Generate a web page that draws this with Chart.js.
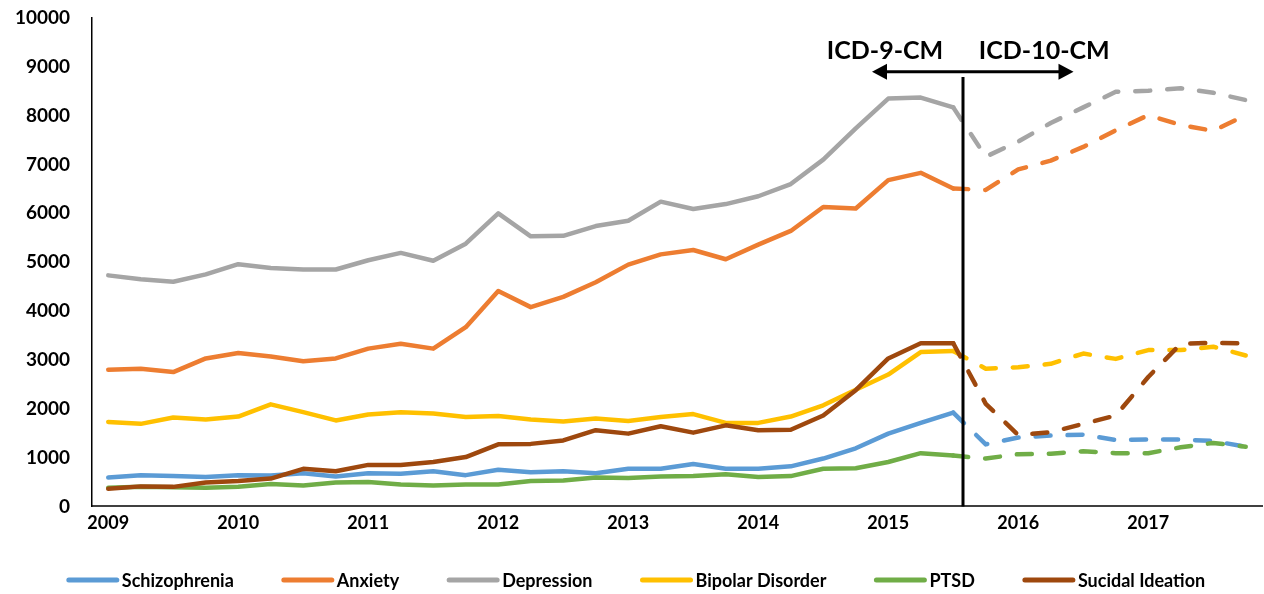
<!DOCTYPE html>
<html>
<head>
<meta charset="utf-8">
<script src="https://cdn.jsdelivr.net/npm/chart.js@4.4.1/dist/chart.umd.min.js"></script>
<style>
  html, body { margin: 0; padding: 0; background: #fff; }
  #wrap { width: 1264px; height: 594px; position: relative; }
</style>
</head>
<body>
<div id="wrap"><canvas id="chart"></canvas></div>
<script>
// quarterly categories, 2009 Q1 .. 2017 Q4
const quarters = [
  '2009 Q1','2009 Q2','2009 Q3','2009 Q4','2010 Q1','2010 Q2','2010 Q3','2010 Q4',
  '2011 Q1','2011 Q2','2011 Q3','2011 Q4','2012 Q1','2012 Q2','2012 Q3','2012 Q4',
  '2013 Q1','2013 Q2','2013 Q3','2013 Q4','2014 Q1','2014 Q2','2014 Q3','2014 Q4',
  '2015 Q1','2015 Q2','2015 Q3','2015 Q4','2016 Q1','2016 Q2','2016 Q3','2016 Q4',
  '2017 Q1','2017 Q2','2017 Q3','2017 Q4'
];
const yearTicks = ['2009','2010','2011','2012','2013','2014','2015','2016','2017'];

const schizophrenia = [590,640,620,600,640,635,680,610,680,670,720,640,750,700,720,680,770,770,870,770,770,820,980,1190,1490,1710,1920,1270,1410,1450,1470,1360,1370,1370,1340,1220];
const anxiety = [2800,2820,2750,3030,3140,3070,2970,3030,3230,3330,3230,3670,4410,4080,4290,4590,4950,5160,5250,5060,5360,5640,6130,6100,6680,6830,6510,6480,6900,7080,7360,7700,8010,7810,7690,8010];
const depression = [4730,4650,4600,4750,4960,4880,4850,4850,5040,5190,5030,5380,6000,5530,5540,5740,5850,6240,6090,6190,6350,6600,7100,7740,8350,8370,8170,7160,7470,7850,8170,8490,8510,8560,8470,8320];
const bipolar = [1730,1690,1820,1780,1840,2090,1930,1760,1880,1930,1900,1830,1850,1780,1740,1800,1750,1830,1890,1710,1710,1840,2070,2390,2700,3160,3180,2820,2850,2920,3130,3020,3200,3200,3270,3090];
const ptsd = [380,400,390,380,400,460,430,490,500,450,430,450,450,520,530,590,580,610,620,660,600,620,770,780,910,1090,1040,980,1070,1080,1130,1090,1090,1210,1300,1220];
const suicidal = [360,410,400,490,520,570,770,720,850,850,910,1010,1270,1280,1350,1560,1490,1640,1510,1660,1560,1570,1860,2380,3030,3340,3340,2100,1460,1520,1690,1860,2650,3330,3350,3340];

const seriesNames = ['Schizophrenia','Anxiety','Depression','Bipolar Disorder','PTSD','Sucidal Ideation'];
const seriesData = [schizophrenia, anxiety, depression, bipolar, ptsd, suicidal];
const seriesColors = ['#5B9BD5','#ED7D31','#A5A5A5','#FFC000','#70AD47','#9E480E'];

// last ICD-9-CM quarter index; switch to ICD-10-CM shortly after
const icd9LastIndex = 26;
const icdSwitchPos = 26.3;

const FONT = 'Lato, "Liberation Sans", sans-serif';
const dash = [15, 17];

const datasets = seriesNames.map((name, i) => ({
  label: name,
  data: seriesData[i],
  borderColor: seriesColors[i],
  backgroundColor: seriesColors[i],
  borderWidth: 4.5,
  pointRadius: 0,
  tension: 0,
  borderJoinStyle: 'round',
  borderCapStyle: 'round',
  order: seriesNames.length - i,
  segment: {
    borderDash: ctx => ctx.p0DataIndex >= icd9LastIndex ? dash : undefined
  }
}));

function xAt(xs, pos) {
  const i = Math.floor(pos);
  const a = xs.getPixelForValue(i);
  const b = xs.getPixelForValue(i + 1);
  return a + (b - a) * (pos - i);
}

const icdPlugin = {
  id: 'icd',
  afterDatasetsDraw(chart) {
    const { ctx, chartArea } = chart;
    const xs = chart.scales.x, ys = chart.scales.y;
    const lineX = xAt(xs, icdSwitchPos);
    ctx.save();
    // vertical split line
    ctx.strokeStyle = '#000';
    ctx.lineWidth = 3;
    ctx.beginPath();
    ctx.moveTo(lineX, ys.getPixelForValue(8790));
    ctx.lineTo(lineX, chartArea.bottom);
    ctx.stroke();
    // double arrow
    const ay = ys.getPixelForValue(8900);
    const x1 = xAt(xs, 23.5), x2 = xAt(xs, 29.7);
    ctx.lineWidth = 3;
    ctx.beginPath();
    ctx.moveTo(x1 + 10, ay);
    ctx.lineTo(x2 - 10, ay);
    ctx.stroke();
    ctx.fillStyle = '#000';
    ctx.beginPath();
    ctx.moveTo(x1, ay); ctx.lineTo(x1 + 15, ay - 8); ctx.lineTo(x1 + 15, ay + 8); ctx.closePath();
    ctx.fill();
    ctx.beginPath();
    ctx.moveTo(x2, ay); ctx.lineTo(x2 - 15, ay - 8); ctx.lineTo(x2 - 15, ay + 8); ctx.closePath();
    ctx.fill();
    // labels
    ctx.font = 'bold 25px ' + FONT;
    ctx.textAlign = 'center';
    ctx.textBaseline = 'middle';
    const ty = ys.getPixelForValue(9320);
    ctx.fillText('ICD-9-CM', xAt(xs, 23.9), ty);
    ctx.fillText('ICD-10-CM', xAt(xs, 28.8), ty);
    ctx.restore();
  }
};

const legendPlugin = {
  id: 'bottomLegend',
  afterDraw(chart) {
    const ctx = chart.ctx;
    const boxW = 52, gap = 3, itemGap = 48, y = 580;
    ctx.save();
    ctx.font = 'bold 18px ' + FONT;
    const widths = seriesNames.map(n => boxW + gap + ctx.measureText(n).width);
    const total = widths.reduce((a, b) => a + b, 0) + itemGap * (widths.length - 1);
    let x = (chart.width - total) / 2 + 4;
    ctx.textBaseline = 'middle';
    ctx.textAlign = 'left';
    seriesNames.forEach((n, i) => {
      ctx.strokeStyle = seriesColors[i];
      ctx.lineWidth = 5;
      ctx.lineCap = 'round';
      ctx.beginPath();
      ctx.moveTo(x + 2, y);
      ctx.lineTo(x + boxW - 2, y);
      ctx.stroke();
      ctx.fillStyle = '#000';
      ctx.fillText(n, x + boxW + gap, y + 1);
      x += widths[i] + itemGap;
    });
    ctx.restore();
  }
};

new Chart(document.getElementById('chart'), {
  type: 'line',
  data: { labels: quarters, datasets: datasets },
  options: {
    responsive: true,
    maintainAspectRatio: false,
    animation: false,
    layout: { padding: { top: 18, right: 2, bottom: 54, left: 0 } },
    plugins: {
      legend: { display: false },
      tooltip: { enabled: false }
    },
    scales: {
      x: {
        offset: true,
        grid: { display: false, drawTicks: false },
        border: { display: true, color: '#404040', width: 2 },
        ticks: {
          autoSkip: false,
          maxRotation: 0,
          padding: 6,
          color: '#000',
          font: { family: FONT, size: 18, weight: 'bold' },
          callback: (v, idx) => idx % 4 === 0 ? yearTicks[idx / 4] : ''
        }
      },
      y: {
        min: 0,
        max: 10000,
        afterFit: s => { s.width = 92; s.paddingTop = 0; s.paddingBottom = 0; },
        grid: { display: false, drawTicks: false },
        border: { display: true, color: '#000', width: 1.5 },
        ticks: {
          stepSize: 1000,
          padding: 22,
          color: '#000',
          font: { family: FONT, size: 19, weight: 'bold' },
          callback: v => String(v)
        }
      }
    }
  },
  plugins: [icdPlugin, legendPlugin]
});
</script>
</body>
</html>
